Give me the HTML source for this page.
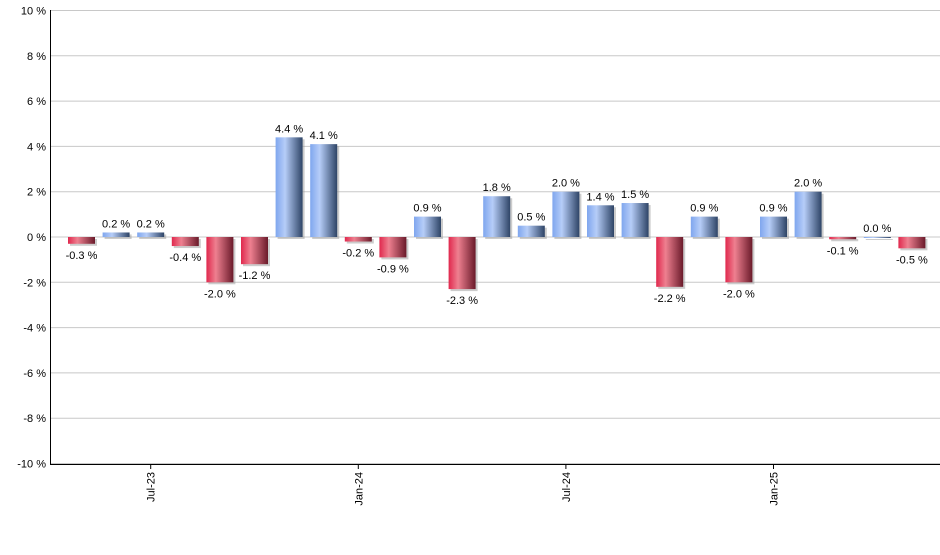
<!DOCTYPE html>
<html><head><meta charset="utf-8"><style>
body{margin:0;background:#fff;font-family:"Liberation Sans",sans-serif}
text{font-family:"Liberation Sans",sans-serif;font-size:11px;fill:#000}
</style></head><body>
<svg id="c" width="940" height="550">
<defs>
<linearGradient id="gb" x1="0" x2="1"><stop offset="0" stop-color="#7fa6ee"/><stop offset="0.35" stop-color="#b6cdf8"/><stop offset="1" stop-color="#2e4466"/></linearGradient>
<linearGradient id="gr" x1="0" x2="1"><stop offset="0" stop-color="#e0284d"/><stop offset="0.35" stop-color="#ee8090"/><stop offset="1" stop-color="#6a1a2a"/></linearGradient>
</defs>
</svg>
<script>
const categories=["May-23","Jun-23","Jul-23","Aug-23","Sep-23","Oct-23","Nov-23","Dec-23","Jan-24","Feb-24","Mar-24","Apr-24","May-24","Jun-24","Jul-24","Aug-24","Sep-24","Oct-24","Nov-24","Dec-24","Jan-25","Feb-25","Mar-25","Apr-25","May-25"];
const values=[-0.3,0.2,0.2,-0.4,-2.0,-1.2,4.4,4.1,-0.2,-0.9,0.9,-2.3,1.8,0.5,2.0,1.4,1.5,-2.2,0.9,-2.0,0.9,2.0,-0.1,0.0,-0.5];
const yTicks=[10,8,6,4,2,0,-2,-4,-6,-8,-10];
const xLabels=["Jul-23","Jan-24","Jul-24","Jan-25"];
const svg=document.getElementById('c');const NS="http://www.w3.org/2000/svg";
function mk(t,a,p){const e=document.createElementNS(NS,t);for(const k in a)e.setAttribute(k,a[k]);(p||svg).appendChild(e);return e;}
const y=v=>237-v*22.65;
const step=34.6, x0=81.5;
const x=i=>x0+i*step;
yTicks.forEach(t=>{
 const l=mk('line',{x1:50,x2:940,y1:y(t),y2:y(t),stroke:'#c8c8c8','stroke-width':1});
 
 
 const tx=mk('text',{x:46,y:y(t)+4,'text-anchor':'end'});tx.textContent=t+' %';
 
 
});
const ax=mk('line',{x1:50.5,x2:50.5,y1:10,y2:464,stroke:'#000'});


const bx=mk('line',{x1:50,x2:940,y1:464.5,y2:464.5,stroke:'#000'});


values.forEach((v,i)=>{
 const cx=x(i),w=27,top=Math.min(y(v),y(0)),h=Math.max(Math.abs(y(v)-y(0)),1);
 const s=mk('rect',{x:cx-w/2+2,y:top+2,width:w,height:h,fill:'#999',opacity:0.5});
 
 
 const r=mk('rect',{x:cx-w/2,y:top,width:w,height:h,fill:v>=0?'url(#gb)':'url(#gr)'});
 
 
 const t=mk('text',{x:cx,y:v>=0?y(v)-5:y(v)+15,'text-anchor':'middle'});
 t.textContent=v.toFixed(1)+' %';
 
 
});
xLabels.forEach(lb=>{
 const i=categories.indexOf(lb),cx=x(i);
 const tk=mk('line',{x1:cx,x2:cx,y1:464,y2:469,stroke:'#000'});
 
 
 const t=mk('text',{x:0,y:0,'text-anchor':'end',transform:`translate(${cx+4},472) rotate(-90)`});
 t.textContent=lb;
 
 
});
</script>
</body></html>
